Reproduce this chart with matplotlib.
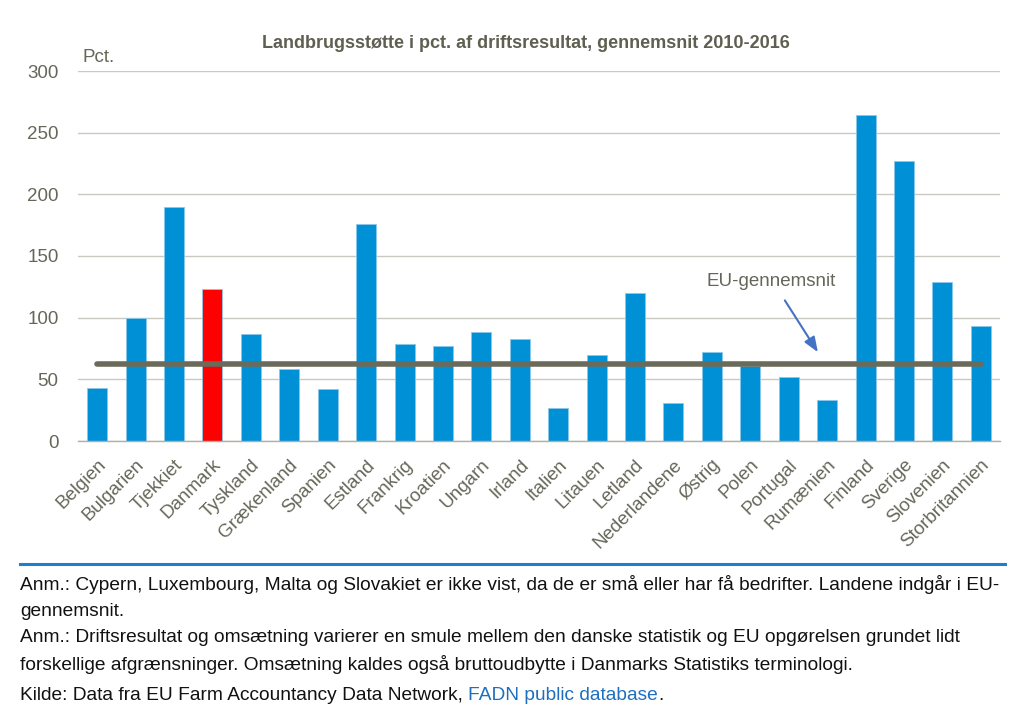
import matplotlib
matplotlib.use("Agg")
import matplotlib.pyplot as plt

countries = ["Belgien", "Bulgarien", "Tjekkiet", "Danmark", "Tyskland", "Grækenland",
             "Spanien", "Estland", "Frankrig", "Kroatien", "Ungarn", "Irland", "Italien",
             "Litauen", "Letland", "Nederlandene", "Østrig", "Polen", "Portugal",
             "Rumænien", "Finland", "Sverige", "Slovenien", "Storbritannien"]
values = [43, 100, 190, 123, 87, 58, 42, 176, 79, 77, 88, 83, 27, 70, 120, 31, 72,
          61, 52, 33, 264, 227, 129, 93]
eu_avg = 62.5
yticks = [0, 50, 100, 150, 200, 250, 300]
highlight = "Danmark"

plt.rcParams['font.family'] = ['Liberation Sans', 'DejaVu Sans']

txt = "#66665a"
fig = plt.figure(figsize=(10.24, 7.27), dpi=100)
ax = fig.add_axes([78/1024, 1-441/727, 922/1024, 370/727])

n = len(countries)
xs = list(range(n))
colors = ["#ff0000" if c == highlight else "#0090d6" for c in countries]
ax.bar(xs, values, width=0.52, color=colors, edgecolor="#8cc8ea", linewidth=0.6, zorder=2)
ax.plot([xs[0], xs[-1]], [eu_avg, eu_avg], color="#6b6b5c", linewidth=4,
        solid_capstyle="round", zorder=3)

ax.set_xlim(-0.5, n - 0.5)
ax.set_ylim(0, 300)
ax.set_yticks(yticks)
ax.set_yticklabels([str(v) for v in yticks], fontsize=13.5, color=txt)
ax.set_xticks(xs)
ax.set_xticklabels(countries, rotation=45, ha="right", rotation_mode="anchor",
                   fontsize=13.5, color=txt)
ax.tick_params(axis="both", length=0)
ax.tick_params(axis="y", pad=14)
ax.tick_params(axis="x", pad=11)
ax.grid(axis="y", color="#c9c9c0", linewidth=1, zorder=0)
for s in ["top", "right", "left"]:
    ax.spines[s].set_visible(False)
ax.spines["bottom"].set_color("#b0b0a8")
ax.spines["bottom"].set_linewidth(1)

ax.text(17.54, 129, "EU-gennemsnit", ha="center", va="center", fontsize=13.5, color=txt)
ax.annotate("", xy=(18.76, 72), xytext=(17.9, 114),
            arrowprops=dict(arrowstyle="-|>,head_width=0.35,head_length=0.9",
                            color="#4472c4", lw=1.5, shrinkA=0, shrinkB=0))

fig.text(526/1024, 1-43/727, "Landbrugsstøtte i pct. af driftsresultat, gennemsnit 2010-2016",
         ha="center", va="center", fontsize=13, fontweight="bold", color="#5f5f52")
fig.text(82/1024, 1-57/727, "Pct.", ha="left", va="center", fontsize=13.5, color=txt)

# footer
fig.add_artist(plt.Line2D([20/1024, 1005/1024], [1-564/727, 1-564/727],
                          color="#1f7fcf", linewidth=2.2))
fs = 13.8
foot = [
    ("Anm.: Cypern, Luxembourg, Malta og Slovakiet er ikke vist, da de er små eller har få bedrifter. Landene indgår i EU-", 585),
    ("gennemsnit.", 611),
    ("Anm.: Driftsresultat og omsætning varierer en smule mellem den danske statistik og EU opgørelsen grundet lidt", 638),
    ("forskellige afgrænsninger. Omsætning kaldes også bruttoudbytte i Danmarks Statistiks terminologi.", 665),
]
for t, y in foot:
    fig.text(20/1024, 1-y/727, t, ha="left", va="center", fontsize=fs, color="#111111")
t1 = fig.text(20/1024, 1-695/727, "Kilde: Data fra EU Farm Accountancy Data Network, ",
              ha="left", va="center", fontsize=fs, color="#111111")
fig.canvas.draw()
bb = t1.get_window_extent()
t2 = fig.text(bb.x1 / fig.bbox.width, 1-695/727, "FADN public database", ha="left",
              va="center", fontsize=fs, color="#1f6fbf")
fig.canvas.draw()
bb2 = t2.get_window_extent()
fig.text(bb2.x1 / fig.bbox.width, 1-695/727, ".", ha="left", va="center", fontsize=fs,
         color="#111111")

fig.savefig("out.png", dpi=100)
